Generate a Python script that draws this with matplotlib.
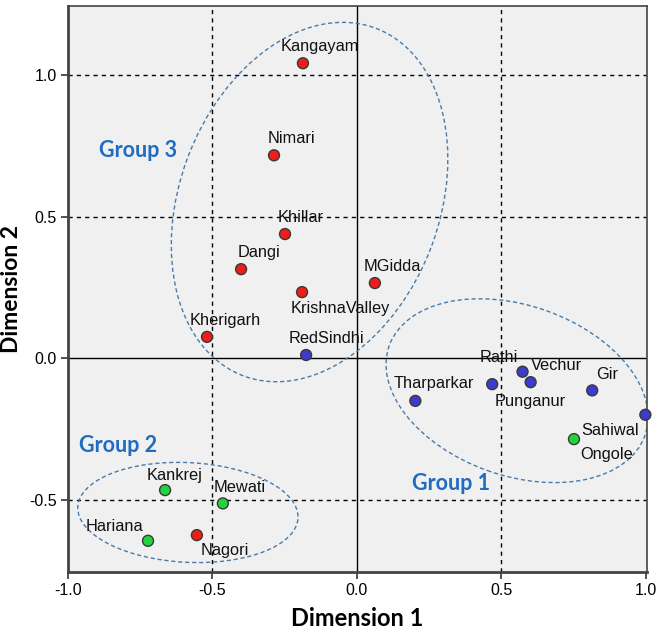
import numpy as np
import matplotlib.pyplot as plt
from matplotlib.patches import Ellipse

# breed coordinates
breeds = ["Kangayam", "Nimari", "Khillar", "Dangi", "KrishnaValley", "MGidda",
          "Kherigarh", "RedSindhi", "Kankrej", "Mewati", "Hariana", "Nagori",
          "Tharparkar", "Rathi", "Vechur", "Punganur", "Gir", "Sahiwal", "Ongole"]
dim1 = [-0.187, -0.287, -0.249, -0.401, -0.190, 0.062,
        -0.519, -0.176, -0.664, -0.464, -0.723, -0.554,
        0.202, 0.468, 0.573, 0.601, 0.814, 0.751, 0.998]
dim2 = [1.042, 0.717, 0.439, 0.315, 0.234, 0.266,
        0.076, 0.012, -0.465, -0.512, -0.644, -0.624,
        -0.150, -0.091, -0.047, -0.084, -0.113, -0.285, -0.199]
cluster = ["r", "r", "r", "r", "r", "r",
           "r", "b", "g", "g", "g", "r",
           "b", "b", "b", "b", "b", "g", "b"]

group_names = ["Group 1", "Group 2", "Group 3"]
ticks_x = [-1.0, -0.5, 0.0, 0.5, 1.0]
ticks_y = [-0.5, 0.0, 0.5, 1.0]

colors = {"r": "#ee1c1c", "b": "#3b3bd0", "g": "#1fd43f"}
# label offsets in pixels (x of text centre, baseline) relative to each point
label_off = {
    "Kangayam": (17, 12), "Nimari": (17, 12), "Khillar": (16, 12),
    "Dangi": (18, 12), "KrishnaValley": (38, -21), "MGidda": (17, 12),
    "Kherigarh": (18, 12), "RedSindhi": (20, 12), "Kankrej": (9, 10),
    "Mewati": (17, 11), "Hariana": (-34, 10), "Nagori": (28, -20),
    "Tharparkar": (18, 13), "Rathi": (7, 22), "Vechur": (34, 2),
    "Punganur": (0, -24), "Gir": (15, 11), "Sahiwal": (36, 4),
    "Ongole": (-39, -44),
}

fig = plt.figure(figsize=(6.6, 6.33), dpi=100)
ax = fig.add_axes([0.103, 0.096, 0.877, 0.894])
ax.set_facecolor("#f0f0f0")

ax.set_xlim(-1.0, 1.003)
ax.set_ylim(-0.755, 1.243)

for v in [-0.5, 0.5]:
    ax.axvline(v, color="black", lw=1, ls=(0, (3, 3)), zorder=1)
for v in [-0.5, 0.5, 1.0]:
    ax.axhline(v, color="black", lw=1, ls=(0, (3, 3)), zorder=1)
ax.axvline(0, color="black", lw=1, zorder=1)
ax.axhline(0, color="black", lw=1, zorder=1)

# group ellipses
ell_col = "#4a7aa8"
for c, w, h, a in [((0.554, -0.114), 0.94, 0.60, -20),
                   ((-0.585, -0.544), 0.763, 0.352, -3),
                   ((-0.164, 0.552), 1.31, 0.90, 70)]:
    ax.add_patch(Ellipse(c, w, h, angle=a, fill=False, ec=ell_col, lw=1,
                         ls=(0, (3, 2)), zorder=2))

ax.scatter(dim1, dim2, s=62, c=[colors[k] for k in cluster],
           edgecolors="#3a3a30", linewidths=1, zorder=3, clip_on=False)

for name, x, y in zip(breeds, dim1, dim2):
    dx, dy = label_off[name]
    ax.annotate(name, (x, y), xytext=(dx, dy), textcoords="offset pixels",
                ha="center", va="baseline", fontsize=11.8,
                family="Liberation Sans", color="#111111", zorder=4)

for name, pos in zip(group_names, [(0.325, -0.441), (-0.827, -0.308), (-0.756, 0.735)]):
    ax.text(pos[0], pos[1], name, ha="center", va="center", fontsize=15.5,
            fontweight="bold", family="Lato", color="#1f6cc0")

ax.set_xticks(ticks_x)
ax.set_yticks(ticks_y)
ax.set_xticklabels(["%.1f" % t for t in ticks_x], family="Liberation Sans", fontsize=11.5)
ax.set_yticklabels(["%.1f" % t for t in ticks_y], family="Liberation Sans", fontsize=11.5)
ax.tick_params(direction="out", length=5, width=1.2, color="#333333", pad=3)

for s in ax.spines.values():
    s.set_color("#444444")
    s.set_linewidth(1.2)
ax.spines["left"].set_linewidth(2)
ax.spines["bottom"].set_linewidth(2)

fig.text(357 / 660, 1 - 619 / 633, "Dimension 1", ha="center", va="center",
         fontsize=17, fontweight="bold", family="Lato")
fig.text(12 / 660, 1 - 289 / 633, "Dimension 2", ha="center", va="center",
         rotation=90, fontsize=16.5, fontweight="bold", family="Lato")

fig.savefig("out.png", dpi=100, facecolor="white")
